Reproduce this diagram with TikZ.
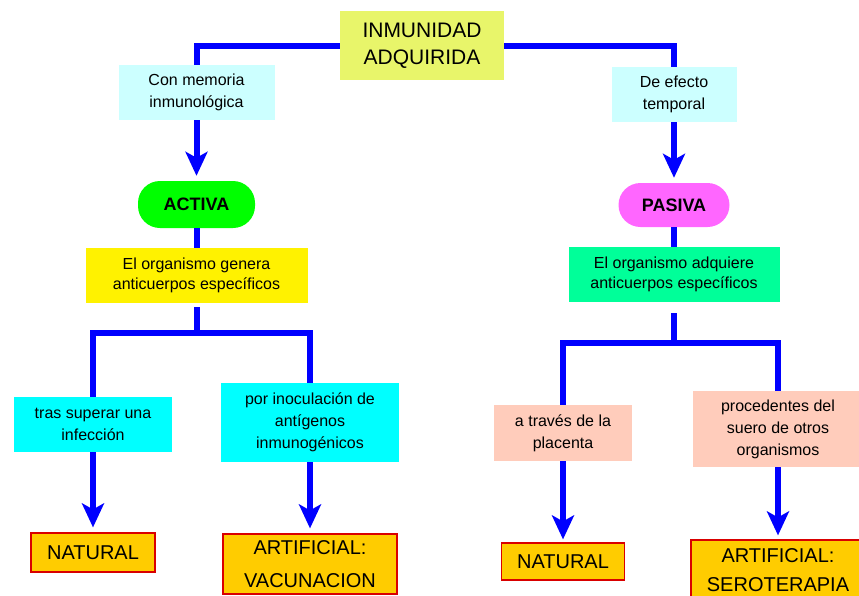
\documentclass[tikz,border=0pt]{standalone}
\usepackage{fontspec}
\setmainfont{Liberation Sans}
\usetikzlibrary{arrows.meta}

\definecolor{lima}{HTML}{E8F56A}
\definecolor{celeste}{HTML}{CCFFFF}
\definecolor{verde}{HTML}{00FF00}
\definecolor{rosa}{HTML}{FF66FF}
\definecolor{menta}{HTML}{00FF99}
\definecolor{cian}{HTML}{00FFFF}
\definecolor{salmon}{HTML}{FFCCBB}
\definecolor{naranja}{HTML}{FFCC00}
\definecolor{azul}{HTML}{0000FF}

\begin{document}
\begin{tikzpicture}[x=1pt, y=-1pt,
    caja/.style={inner sep=0pt, align=center, font=\fontsize{16}{22}\selectfont},
    grande/.style={caja, font=\fontsize{20}{27}\selectfont},
    final/.style={grande, fill=naranja, draw=red!85!black, line width=1.2pt},
    pastilla/.style={caja, rounded corners=22pt, font=\fontsize{18}{22}\selectfont\bfseries},
    enlace/.style={azul, line width=6pt},
    flecha/.style={enlace, -{Stealth[length=24pt, width=22pt, inset=6pt]}, shorten >=5pt}]

    \clip (0,0) rectangle (859,595);

    % Title
    \node[grande, fill=lima, minimum width=164pt, minimum height=69pt, font=\fontsize{21}{27}\selectfont] (top) at (422,45.5) {INMUNIDAD\\ADQUIRIDA};

    % Left branch: activa
    \node[caja, fill=celeste, minimum width=156pt, minimum height=55pt] (mem) at (196.5,92.5) {Con memoria\\inmunológica};
    \node[pastilla, fill=verde, minimum width=117pt, minimum height=47pt] (act) at (196.5,204.5) {ACTIVA};
    \node[caja, fill=yellow, minimum width=222pt, minimum height=55pt, font=\fontsize{16}{20}\selectfont] (gen) at (196.5,275.5) {El organismo genera\\anticuerpos específicos};
    \node[caja, fill=cian, minimum width=158pt, minimum height=55pt] (tras) at (93,424.5) {tras superar una\\infección};
    \node[caja, fill=cian, minimum width=178pt, minimum height=79pt] (inoc) at (310,422.5) {por inoculación de\\antígenos\\inmunogénicos};
    \node[final, minimum width=124pt, minimum height=39pt] (nat1) at (93,552.5) {NATURAL};
    \node[final, minimum width=174pt, minimum height=60pt, font=\fontsize{20}{33}\selectfont] (art1) at (310,564) {ARTIFICIAL:\\VACUNACION};

    % Right branch: pasiva
    \node[caja, fill=celeste, minimum width=125pt, minimum height=55pt] (efe) at (674,94.5) {De efecto\\temporal};
    \node[pastilla, fill=rosa, minimum width=111pt, minimum height=44pt] (pas) at (674,205) {PASIVA};
    \node[caja, fill=menta, minimum width=211pt, minimum height=55pt, font=\fontsize{16}{20}\selectfont] (adq) at (674,274.5) {El organismo adquiere\\anticuerpos específicos};
    \node[caja, fill=salmon, minimum width=138pt, minimum height=56pt] (plac) at (563,433) {a través de la\\placenta};
    \node[caja, fill=salmon, minimum width=170pt, minimum height=76pt] (proc) at (778,429) {procedentes del\\suero de otros\\organismos};
    \node[final, minimum width=123pt, minimum height=37pt] (nat2) at (563,561.5) {NATURAL};
    \node[final, minimum width=174pt, minimum height=60pt, font=\fontsize{20}{29}\selectfont] (art2) at (778,570) {ARTIFICIAL:\\SEROTERAPIA};

    % Connectors from the title
    \draw[enlace] (top.west) -| (mem.north);
    \draw[enlace] (top.east) -| (efe.north);
    \draw[flecha] (mem.south) -- (act.north);
    \draw[flecha] (efe.south) -- (pas.north);
    \draw[enlace] (act.south) -- (gen.north);
    \draw[enlace] (pas.south) -- (adq.north);

    % Split under activa
    \coordinate (splitA) at (196.5,333);
    \draw[enlace, shorten <=4pt] (gen.south) -- (splitA);
    \draw[enlace] (tras.north) |- (splitA) -| (inoc.north);
    \draw[flecha] (tras.south) -- (nat1.north);
    \draw[flecha] (inoc.south) -- (art1.north);

    % Split under pasiva
    \coordinate (splitP) at (674,343);
    \draw[enlace, shorten <=11pt] (adq.south) -- (splitP);
    \draw[enlace] (plac.north) |- (splitP) -| (proc.north);
    \draw[flecha, shorten >=3pt] (plac.south) -- (nat2.north);
    \draw[flecha, shorten >=4pt] (proc.south) -- (art2.north);

\end{tikzpicture}
\end{document}
